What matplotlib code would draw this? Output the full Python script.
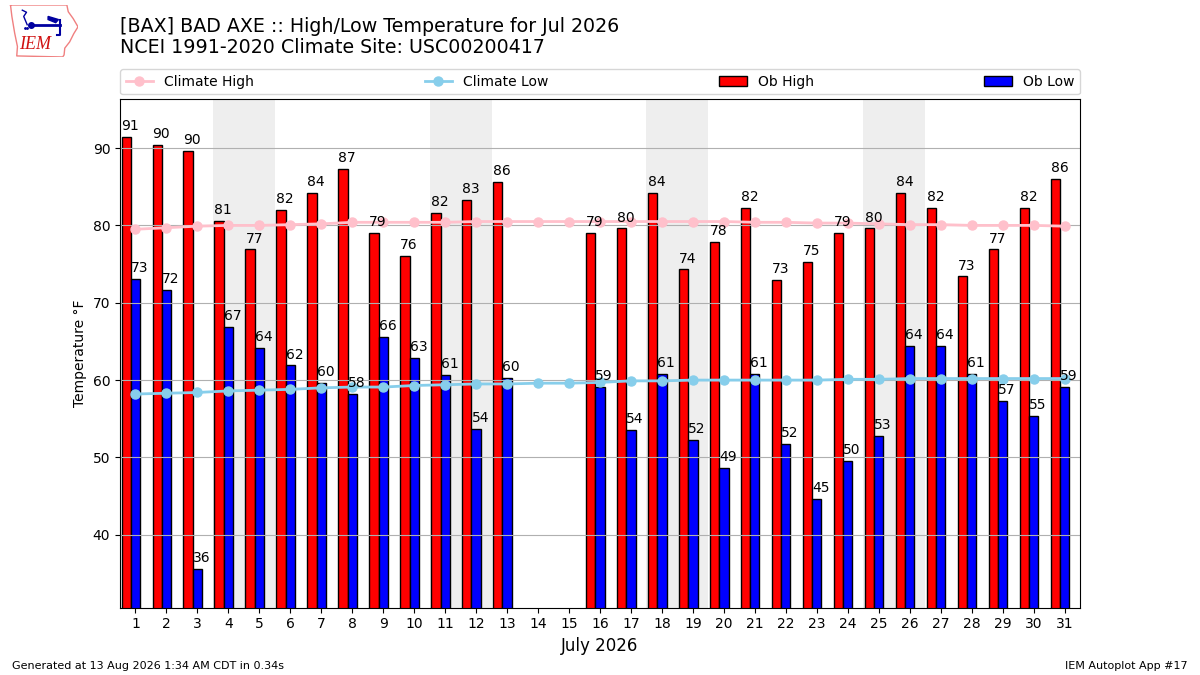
import numpy as np
import matplotlib
matplotlib.use("Agg")
import matplotlib.pyplot as plt

# observed and climatology values for July 2026, Bad Axe
days = np.arange(1, 32)
ob_high = [91.4, 90.4, 89.6, 80.6, 76.9, 82.0, 84.2, 87.3, 79.0, 76.0,
           81.6, 83.3, 85.6, np.nan, np.nan, 79.0, 79.6, 84.2, 74.3, 77.9,
           82.3, 73.0, 75.3, 79.0, 79.6, 84.2, 82.3, 73.4, 76.9, 82.3, 86.0]
ob_low = [73.1, 71.7, 35.6, 66.9, 64.2, 61.9, 59.6, 58.2, 65.6, 62.9,
          60.7, 53.7, 60.3, np.nan, np.nan, 59.1, 53.6, 60.8, 52.3, 48.7,
          60.8, 51.8, 44.6, 49.6, 52.8, 64.4, 64.4, 60.8, 57.3, 55.4, 59.1]
clim_high = [79.5, 79.7, 79.9, 80.0, 80.0, 80.1, 80.2, 80.4, 80.4, 80.4,
             80.4, 80.5, 80.5, 80.5, 80.5, 80.5, 80.5, 80.5, 80.5, 80.5,
             80.4, 80.4, 80.3, 80.3, 80.2, 80.1, 80.1, 80.0, 80.0, 80.0, 79.9]
clim_low = [58.2, 58.3, 58.4, 58.6, 58.7, 58.8, 59.0, 59.1, 59.1, 59.3,
            59.4, 59.5, 59.5, 59.6, 59.6, 59.7, 59.9, 59.9, 60.0, 60.0,
            60.0, 60.0, 60.0, 60.1, 60.1, 60.2, 60.2, 60.2, 60.2, 60.2, 60.2]
weekend_days = [4, 5, 11, 12, 18, 19, 25, 26]

ob_high = np.array(ob_high)
ob_low = np.array(ob_low)

fig = plt.figure(figsize=(12, 6.75), dpi=100)
ax = fig.add_axes([0.1, 0.1, 0.8, 0.754])

# weekend shading
for d in weekend_days:
    ax.axvspan(d - 0.5, d + 0.5, color="#EEEEEE", zorder=0, lw=0)

ax.bar(days - 0.3, ob_high, width=0.3, color="r", edgecolor="k",
       linewidth=1, label="Ob High", zorder=1)
ax.bar(days, ob_low, width=0.3, color="b", edgecolor="k",
       linewidth=1, label="Ob Low", zorder=1)
ax.plot(days, clim_high, color="pink", marker="o", ms=6.5, lw=2,
        label="Climate High", zorder=3)
ax.plot(days, clim_low, color="skyblue", marker="o", ms=6.5, lw=2,
        label="Climate Low", zorder=3)

# value labels
for d, hi, lo in zip(days, ob_high, ob_low):
    if not np.isnan(hi):
        ax.text(d - 0.45, hi + 0.5, "%.0f" % hi, ha="left", va="bottom",
                fontsize=10, zorder=4)
    if not np.isnan(lo):
        ax.text(d - 0.15, lo + 0.5, "%.0f" % lo, ha="left", va="bottom",
                fontsize=10, zorder=4)

ax.set_xlim(0.5, 31.5)
ax.set_ylim(np.nanmin(ob_low) - 5, np.nanmax(ob_high) + 5)
ax.set_xticks(days)
ax.set_xticklabels([str(d) for d in days], fontsize=10)
ax.tick_params(axis="y", labelsize=10)
ax.grid(True, axis="y")
ax.set_ylabel("Temperature °F", fontsize=10)
ax.set_xlabel("July 2026", fontsize=12)

handles, labels = ax.get_legend_handles_labels()
order = [labels.index(n) for n in ["Climate High", "Climate Low", "Ob High", "Ob Low"]]
ax.legend([handles[i] for i in order], [labels[i] for i in order],
          ncol=4, loc="lower left", bbox_to_anchor=(0.0, 1.008, 1.0, 0.05),
          mode="expand", borderaxespad=0, fontsize=10)

# titles and footer
fig.text(0.1, 0.953, "[BAX] BAD AXE :: High/Low Temperature for Jul 2026",
         fontsize=13.7, va="baseline")
fig.text(0.1, 0.921, "NCEI 1991-2020 Climate Site: USC00200417",
         fontsize=13.7, va="baseline")
fig.text(0.01, 0.006, "Generated at 13 Aug 2026 1:34 AM CDT in 0.34s",
         fontsize=8, va="bottom")
fig.text(0.99, 0.006, "IEM Autoplot App #17", fontsize=8, ha="right",
         va="bottom")

# rough IEM logo (Iowa outline + station symbol)
lax = fig.add_axes([0.007, 0.9156, 0.058, 0.077])
lax.axis("off")
lax.set_xlim(0, 1)
lax.set_ylim(0, 1)
ox = [0.03, 0.84, 0.86, 0.93, 1.0, 0.94, 0.88, 0.81, 0.8, 0.78, 0.12, 0.13, 0.09, 0.05, 0.03]
oy = [1.0, 1.0, 0.87, 0.74, 0.58, 0.45, 0.29, 0.17, 0.04, 0.0, 0.02, 0.2, 0.46, 0.78, 1.0]
lax.plot(ox, oy, color="#f08080", lw=1)
lax.plot([0.31, 0.74], [0.62, 0.62], color="#0000a0", lw=2)
lax.plot([0.33], [0.62], "o", color="#0000a0", ms=4)
lax.fill([0.57, 0.72, 0.68, 0.57], [0.78, 0.72, 0.66, 0.72], color="#0000a0")
lax.plot([0.74, 0.74, 0.7], [0.71, 0.42, 0.42], color="#0000a0", lw=1.5)
lax.plot([0.27, 0.22, 0.26, 0.2], [0.62, 0.78, 0.86, 0.9], color="#0000a0", lw=1)
lax.plot([0.24, 0.27], [0.55, 0.55], ".", color="#0000a0", ms=2)
lax.text(0.39, 0.24, "IEM", color="#d01010", fontsize=13,
         family="Liberation Serif", style="italic", ha="center", va="center")

fig.savefig("out.png", dpi=100)
